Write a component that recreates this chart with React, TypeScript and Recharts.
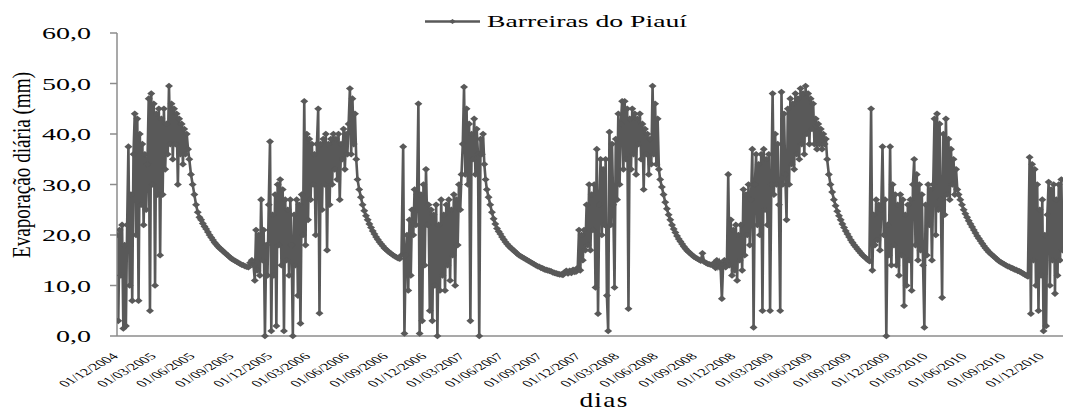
import React from "react";
import { LineChart, Line, XAxis, YAxis, Legend } from "recharts";

// daily evaporation (mm): rainy spells every 3 days, dry-season recessions every 4 days
const rain04_05 = [
  20, 3, 21, 12, 22, 1.5, 18, 2, 22, 37.5, 10, 28, 7, 36, 44, 20, 43, 7, 40, 26,
  38, 22, 36, 25, 34, 47, 5, 48, 30, 46, 10, 44, 28, 45, 16, 43, 28, 45, 33, 42,
  36, 49.5, 38, 46, 35, 45, 38, 44, 30, 43, 36, 42, 34, 41, 36, 40, 37,
];
const dry05 = [
  35, 32, 30, 28, 26, 24.5, 23.5, 23, 22.3, 21.7, 21.2, 20.6, 20, 19.5, 19, 18.5, 18.1, 17.7, 17.4, 17.1,
  16.8, 16.5, 16.2, 15.9, 15.6, 15.3, 15.1, 14.9, 14.7, 14.5, 14.3, 14.1, 14, 13.8, 13.7, 13.6, 14.5, 15,
];
const rain05_06 = [
  14, 11, 21, 13, 20, 12, 27, 15, 21, 0, 18, 12, 26, 38.5, 1, 24, 12, 28, 2, 30,
  18, 31, 14, 29, 1, 27, 15, 25, 12, 27, 18, 0, 24, 14, 27, 8, 26, 2.5, 28, 20,
  46.5, 18, 40, 23, 39, 27, 38, 30, 36, 20, 38, 45, 4.5, 38, 25, 39, 30, 40, 17, 38,
  26, 39, 30, 40, 33, 39, 31, 40, 27, 38, 35, 41, 33, 40, 36, 42, 49, 36, 47, 38,
  44, 35,
];
const dry06 = [
  31, 29, 27.5, 26, 24.8, 23.8, 23, 22.2, 21.5, 20.8, 20.2, 19.6, 19.1, 18.6, 18.2, 17.8, 17.4, 17.1, 16.8, 16.5,
  16.3, 16, 15.8, 15.6, 15.4, 15.3, 16,
];
const rain06_07 = [
  37.5, 0.5, 16, 20, 9, 23, 12, 25, 20, 29, 22, 28, 46, 0.5, 28, 3, 30, 14, 33, 22,
  26, 5, 25, 3, 24, 10, 26, 0, 22, 9, 27, 12, 24, 9, 26, 14, 27, 11, 25, 16,
  28, 10, 27, 18, 30, 25, 32, 38, 49.3, 32, 45, 30, 42, 3, 40, 35, 43, 32, 41, 36,
  0, 39, 36, 40, 34, 31,
];
const dry07 = [
  29, 27.5, 26, 24.5, 23.2, 22.2, 21.3, 20.7, 20.2, 19.6, 19.1, 18.6, 18.2, 17.8, 17.5, 17.2, 16.9, 16.6, 16.3, 16,
  15.8, 15.6, 15.4, 15.2, 15, 14.8, 14.6, 14.4, 14.2, 14, 13.8, 13.7, 13.5, 13.4, 13.2, 13.1, 13, 12.9, 12.8, 12.6,
  12.5, 12.4, 12.3, 12.2, 12.2, 12.1, 12.6, 12.9, 12.4, 12.9, 12.5, 13.1, 12.7,
];
const rain07_08 = [
  12.8, 13.5, 21, 13, 20, 15, 21, 17, 26, 18, 30, 17, 28, 21, 30, 9.6, 37, 4.4, 26, 35,
  20, 33, 22, 35, 8, 1, 40.4, 22, 38, 26, 9.6, 39, 27, 44, 30, 42, 46.5, 33, 46.5, 35,
  45, 5.4, 43, 33, 45, 36, 44, 32, 43, 38, 44, 35, 42, 29, 41, 36, 40, 32, 39, 34,
  49.5, 36, 46, 34, 43, 33,
];
const dry08 = [
  31, 29.5, 28, 26.5, 25.2, 24, 23, 22, 21.2, 20.5, 19.8, 19.2, 18.7, 18.2, 17.7, 17.3, 16.9, 16.6, 16.3, 16,
  15.7, 15.5, 15.3, 15.1, 14.9, 16.4, 14.7, 14.5, 14.3, 14.2, 14.1, 14,
];
const rain08_09 = [
  14.5, 13.5, 15, 13.8, 14.6, 13.5, 7.4, 14.2, 15, 13.6, 14.8, 32, 14, 23, 12, 21, 13, 22, 11, 20,
  15, 22, 13, 29, 16, 28, 20, 30, 18, 27, 37, 1.7, 30, 36, 22, 34, 20, 36, 5, 37,
  25, 35, 22, 36, 5, 30, 48, 28, 40, 30, 38, 26, 5, 48.3, 30, 44, 32, 23, 45, 30,
  47, 34, 46, 33, 48, 36, 47, 35, 49, 38, 48, 36, 49.5, 40, 48, 38, 47, 41, 46, 38,
  43, 37, 42, 38, 41, 37, 40, 38, 39,
];
const dry09 = [
  35, 32, 30, 28.5, 27, 25.8, 24.7, 23.8, 23, 22.2, 21.5, 20.8, 20.2, 19.6, 19, 18.5, 18, 17.6, 17.2, 16.8,
  16.4, 16, 15.7, 15.4, 15.1, 14.8,
];
const rain09_10 = [
  45, 13, 24, 18, 27, 19, 26, 17, 25, 37.5, 20, 27, 0, 22, 16, 37.5, 14, 30, 18, 28,
  14, 26, 12, 28, 16, 27, 6, 24, 10, 26, 15, 27, 9, 30, 35, 18, 32, 15, 30, 17,
  28, 14, 1.7, 26, 16, 30, 22, 29, 15, 30, 43, 20, 44, 25, 42, 27, 7.6, 40, 24, 43,
  28, 39, 27, 37, 30, 35, 28, 33, 29,
];
const dry10 = [
  28, 27, 26, 25, 24.2, 23.5, 22.8, 22.2, 21.6, 21, 20.4, 19.8, 19.3, 18.8, 18.3, 17.8, 17.4, 17, 16.6, 16.3,
  16, 15.7, 15.4, 15.1, 14.8, 14.6, 14.4, 14.2, 14, 13.8, 13.7, 13.5, 13.4, 13.2, 13.1, 12.9, 12.8, 12.6, 12.4, 12.2,
  12, 11.8,
];
const rain10_11 = [
  35.4, 4.4, 34, 15, 33, 10, 30, 5, 25, 12, 27, 1, 20, 2, 24, 30.5, 10, 29, 15, 30,
  8.4, 27, 12, 30, 15, 31, 17,
];

// [sampling step in days, values], in date order from 01/12/2004
const segments: [number, number[]][] = [
  [3, rain04_05], [4, dry05],
  [3, rain05_06], [4, dry06],
  [3, rain06_07], [4, dry07],
  [3, rain07_08], [4, dry08],
  [3, rain08_09], [4, dry09],
  [3, rain09_10], [4, dry10],
  [3, rain10_11],
];

const tickLabels = [
  "01/12/2004", "01/03/2005", "01/06/2005", "01/09/2005",
  "01/12/2005", "01/03/2006", "01/06/2006", "01/09/2006",
  "01/12/2006", "01/03/2007", "01/06/2007", "01/09/2007",
  "01/12/2007", "01/03/2008", "01/06/2008", "01/09/2008",
  "01/12/2008", "01/03/2009", "01/06/2009", "01/09/2009",
  "01/12/2009", "01/03/2010", "01/06/2010", "01/09/2010",
  "01/12/2010",
];

const yTicks = [0, 10, 20, 30, 40, 50, 60];

const seriesName = "Barreiras do Piauí";
const lineColor = "#595959";
const axisColor = "#8c8c8c";
const font = "'Liberation Serif', 'Times New Roman', serif";

function toUtc(label: string): number {
  const [d, m, y] = label.split("/").map(Number);
  return Date.UTC(y, m - 1, d);
}

const dayMs = 24 * 3600 * 1000;
const tickDays = tickLabels.map((l) => Math.round((toUtc(l) - toUtc(tickLabels[0])) / dayMs));

const chartData: { day: number; evap: number }[] = [];
let cursor = 0;
segments.forEach(([step, values]) => {
  values.forEach((v) => {
    chartData.push({ day: cursor, evap: v });
    cursor += step;
  });
});

function fmtComma(v: number): string {
  return v.toFixed(1).replace(".", ",");
}

const XTick = (props: any) => {
  const { x, y, payload } = props;
  const idx = tickDays.indexOf(payload.value);
  return (
    <g transform={`translate(${x + 2},${y + 21}) scale(1.75,1) rotate(-45)`}>
      <text x={0} y={0} textAnchor="end" fontFamily={font} fontSize={9.5} fill="#000">
        {tickLabels[idx]}
      </text>
    </g>
  );
};

const YTick = (props: any) => {
  const { x, y, payload } = props;
  return (
    <g transform={`translate(${x},${y})`}>
      <text transform="scale(1.75,1)" x={0} y={0} dy={6} textAnchor="end" fontFamily={font} fontSize={16} fill="#000">
        {fmtComma(payload.value)}
      </text>
    </g>
  );
};

const YTitle = () => (
  <text
    transform="translate(30,165) scale(1.3,1) rotate(-90)"
    textAnchor="middle"
    fontFamily={font}
    fontSize={19}
    fill="#000"
    textLength={186}
    lengthAdjust="spacingAndGlyphs"
  >
    Evaporação diária (mm)
  </text>
);

const XTitle = () => (
  <g transform="translate(604,407) scale(1.3,1)">
    <text x={0} y={0} textAnchor="middle" fontFamily={font} fontSize={21} fill="#000" letterSpacing={1}>
      dias
    </text>
  </g>
);

const renderDot = (props: any) => {
  const { cx, cy, index } = props;
  if (cx == null || cy == null) return <g key={index} />;
  return (
    <polygon
      key={index}
      points={`${cx - 4},${cy} ${cx},${cy - 3.3} ${cx + 4},${cy} ${cx},${cy + 3.3}`}
      fill={lineColor}
    />
  );
};

const renderLegend = () => (
  <svg width={280} height={32}>
    <line x1={5} y1={21.5} x2={60} y2={21.5} stroke={lineColor} strokeWidth={2.5} />
    <polygon points="29,21.5 32.5,19 36,21.5 32.5,24" fill={lineColor} />
    <text x={67} y={26.5} fontFamily={font} fontSize={17} fill="#000" textLength={200} lengthAdjust="spacingAndGlyphs">
      {seriesName}
    </text>
  </svg>
);

export default function App() {
  return (
    <div style={{ position: "absolute", left: 0, top: 0, background: "#fff" }}>
      <LineChart width={1065} height={410} data={chartData} margin={{ top: 33, right: 2, bottom: 14, left: 0 }}>
        <XAxis
          type="number"
          dataKey="day"
          domain={[0, 2238]}
          ticks={tickDays}
          interval={0}
          allowDataOverflow
          height={60}
          tickLine={false}
          tickSize={0}
          tickMargin={0}
          axisLine={{ stroke: axisColor, strokeWidth: 1.5 }}
          tick={<XTick />}
          label={<XTitle />}
        />
        <YAxis
          type="number"
          domain={[0, 60]}
          ticks={yTicks}
          interval={0}
          width={117}
          tickSize={7}
          tickMargin={19}
          axisLine={{ stroke: axisColor, strokeWidth: 1.5 }}
          tickLine={{ stroke: axisColor, strokeWidth: 1.5 }}
          tick={<YTick />}
          label={<YTitle />}
        />
        <Legend
          layout="horizontal"
          verticalAlign="middle"
          align="center"
          wrapperStyle={{ top: 0, left: 420, width: 280 }}
          content={renderLegend}
        />
        <Line
          type="linear"
          dataKey="evap"
          name={seriesName}
          stroke={lineColor}
          strokeWidth={2.6}
          dot={renderDot}
          activeDot={false}
          isAnimationActive={false}
        />
      </LineChart>
    </div>
  );
}
